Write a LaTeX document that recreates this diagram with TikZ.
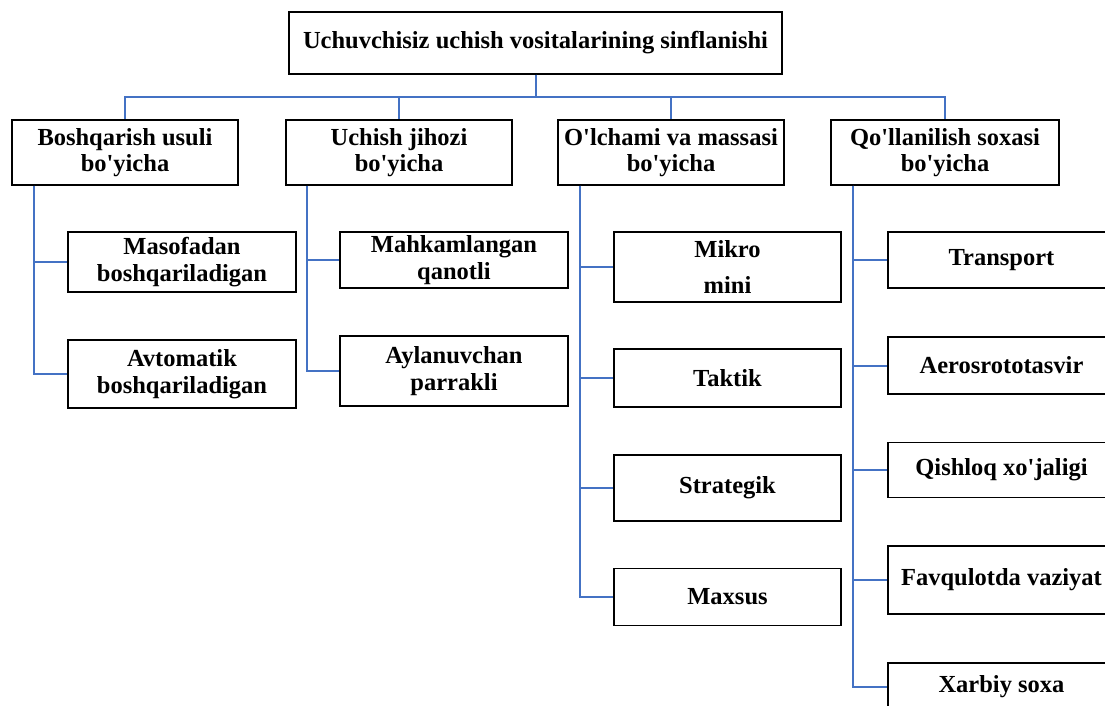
\documentclass[tikz,border=0pt]{standalone}
\usepackage{fontspec}
\setmainfont{Liberation Serif}
\usetikzlibrary{positioning, calc}
\definecolor{linkblue}{HTML}{4472C4}
\newcommand{\ap}{\textquotesingle}

\begin{document}
\begin{tikzpicture}[
    x=1pt, y=-1pt,
    box/.style={
      draw, line width=1.3pt, inner sep=1pt, align=center,
      font=\fontsize{24.5}{26.5}\selectfont\bfseries
    },
    link/.style={draw=linkblue, line width=2pt}
  ]
    \useasboundingbox (0,0) rectangle (1105,706);
    \clip (0,0) rectangle (1105,706);

    % Root
    \node[box, minimum width=493pt, minimum height=62pt] (top) at (535.5,43)
      {Uchuvchisiz uchish vositalarining sinflanishi};

    % Groups
    \node[box, minimum width=226pt, minimum height=65pt] (bA) at (125,152.5) {Boshqarish usuli\\bo\ap yicha};
    \node[box, minimum width=226pt, minimum height=65pt] (bB) at (399,152.5) {Uchish jihozi\\bo\ap yicha};
    \node[box, minimum width=226pt, minimum height=65pt] (bC) at (671,152.5) {O\ap lchami va massasi\\bo\ap yicha};
    \node[box, minimum width=228pt, minimum height=65pt] (bD) at (945,152.5) {Qo\ap llanilish soxasi\\bo\ap yicha};

    % Items
    \node[box, minimum width=228pt, minimum height=60pt] (a1) at (182,262) {Masofadan\\boshqariladigan};
    \node[box, minimum width=228pt, minimum height=68pt] (a2) at (182,374) {Avtomatik\\boshqariladigan};

    \node[box, minimum width=228pt, minimum height=56pt] (b1) at (454,260) {Mahkamlangan\\qanotli};
    \node[box, minimum width=228pt, minimum height=70pt] (b2) at (454,371) {Aylanuvchan\\parrakli};

    \node[box, minimum width=227pt, minimum height=70pt] (c1) at (727.5,267) {Mikro\\[9pt]mini};
    \node[box, minimum width=227pt, minimum height=58pt] (c2) at (727.5,378) {Taktik};
    \node[box, minimum width=227pt, minimum height=66pt] (c3) at (727.5,488) {Strategik};
    \node[box, minimum width=227pt, minimum height=57pt] (c4) at (727.5,597) {Maxsus};

    \node[box, minimum width=227pt, minimum height=56pt] (d1) at (1001.5,260) {Transport};
    \node[box, minimum width=227pt, minimum height=57pt] (d2) at (1001.5,365.5) {Aerosrototasvir};
    \node[box, minimum width=227pt, minimum height=55pt] (d3) at (1001.5,470) {Qishloq xo\ap jaligi};
    \node[box, minimum width=227pt, minimum height=68pt] (d4) at (1001.5,580) {Favqulotda vaziyat};
    \node[box, minimum width=227pt, minimum height=48pt] (d5) at (1001.5,687) {Xarbiy soxa};

    % Bus from the root
    \coordinate (bus) at (0,97);
    \foreach \n in {bA,bB,bC,bD}
      \draw[link] (top.south) -- (top.south |- bus) -| (\n.north);

    % Rails down the left of each group
    \coordinate (ra) at ([xshift=23pt]bA.south west);
    \coordinate (rb) at ([xshift=22pt]bB.south west);
    \coordinate (rc) at ([xshift=23pt]bC.south west);
    \coordinate (rd) at ([xshift=23pt]bD.south west);
    \foreach \r/\c in {ra/a1, ra/a2, rb/b1, rb/b2, rc/c1, rc/c2, rc/c3, rc/c4,
                       rd/d1, rd/d2, rd/d3, rd/d4, rd/d5}
      \draw[link] (\r) |- (\c.west);
\end{tikzpicture}
\end{document}
